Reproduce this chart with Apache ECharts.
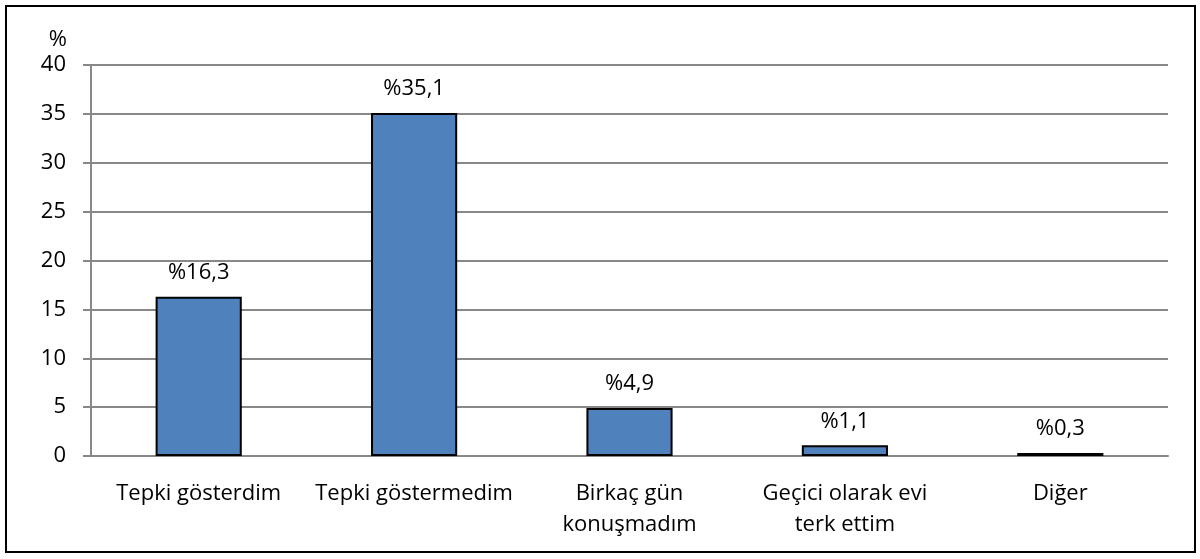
<!DOCTYPE html>
<html>
<head>
<meta charset="UTF-8">
<title></title>
<style type="text/css">
	* {margin: 0; padding: 0;}
	body {background: #fff;}
</style>
</head>
<body>
<div id="chart" style="width:1200px;height:559px"></div>
<script src="https://cdn.jsdelivr.net/npm/echarts@6/dist/echarts.min.js"></script>
<script type="text/javascript">
	var categories = ['Tepki gösterdim', 'Tepki göstermedim', 'Birkaç gün\nkonuşmadım', 'Geçici olarak evi\nterk ettim', 'Diğer'];
	var values = [16.3, 35.1, 4.9, 1.1, 0.3];
	var yTicks = [0, 5, 10, 15, 20, 25, 30, 35, 40];

	var font = '"Open Sans", Lato, sans-serif';
	var chart = echarts.init(document.getElementById('chart'));
	var option = {
		animation: false,
		graphic: [{
			type: 'rect',
			shape: {x: 6, y: 6, width: 1189, height: 546},
			style: {fill: 'none', stroke: '#000', lineWidth: 2}
		}],
		grid: {left: 91, right: 32, top: 65, bottom: 103},
		xAxis: {
			type: 'category',
			data: categories,
			axisLine: {lineStyle: {color: '#888', width: 2}},
			axisTick: {show: false},
			axisLabel: {color: '#000', fontSize: 22, fontFamily: font, margin: 22, lineHeight: 31, interval: 0}
		},
		yAxis: {
			type: 'value',
			min: yTicks[0],
			max: yTicks[yTicks.length - 1],
			interval: 5,
			name: '%',
			nameLocation: 'end',
			nameGap: 14,
			nameTextStyle: {color: '#000', fontSize: 22, fontFamily: font, align: 'right', padding: [0, 24, 0, 0]},
			axisLine: {show: true, lineStyle: {color: '#888', width: 2}},
			axisTick: {show: true, length: 8, lineStyle: {color: '#888', width: 2}},
			axisLabel: {color: '#000', fontSize: 22, fontFamily: font, margin: 25},
			splitLine: {lineStyle: {color: '#888', width: 2}}
		},
		series: [{
			type: 'bar',
			data: values,
			barWidth: '40%',
			itemStyle: {color: '#4F81BD', borderColor: '#000', borderWidth: 2},
			label: {
				show: true,
				position: 'top',
				distance: 13,
				color: '#000',
				fontSize: 22,
				fontFamily: font,
				formatter: function (p) { return '%' + String(p.value).replace('.', ','); }
			}
		}]
	};
	chart.setOption(option);
</script>
</body>
</html>
